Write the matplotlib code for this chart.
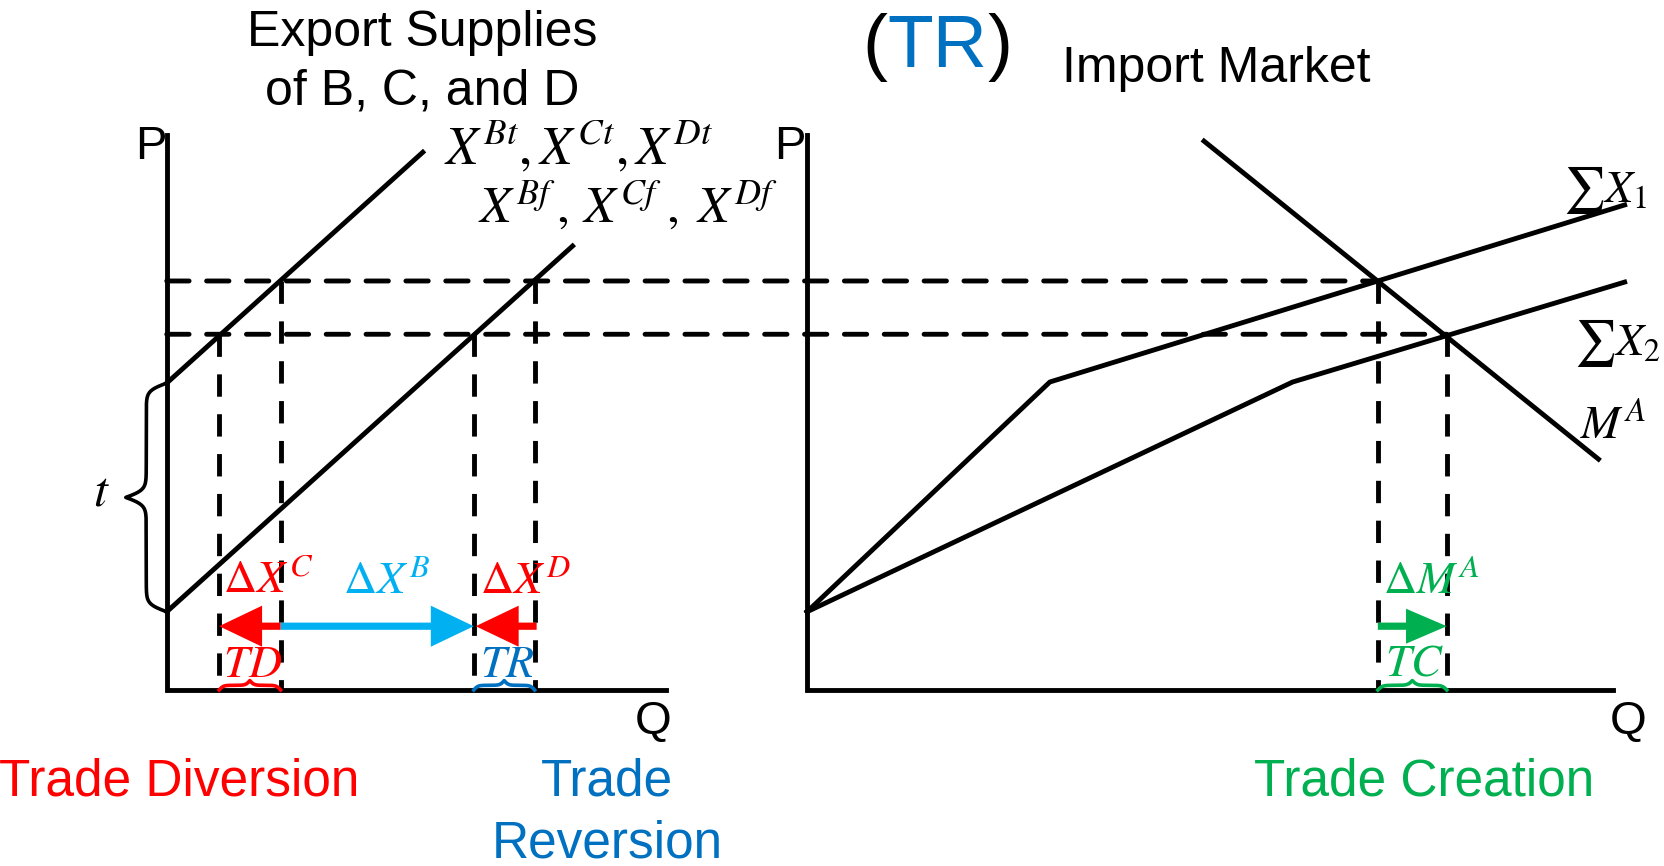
import numpy as np
import matplotlib.pyplot as plt
from matplotlib.patches import ConnectionPatch, FancyArrow

plt.rcParams['font.family'] = ['Liberation Sans', 'DejaVu Sans']
plt.rcParams['mathtext.fontset'] = 'stix'

# --- data (Q and P in diagram units) ---
# left panel: export supplies of B, C, D
supply_tariff_q = [0.0, 5.13]
supply_tariff_p = [5.53, 9.69]
supply_free_q = [0.0, 8.13]
supply_free_p = [1.41, 8.00]
p_high = 7.37
p_low = 6.41
q_c = [1.05, 2.28]      # low / high price on the tariff supply
q_d = [6.15, 7.37]      # low / high price on the free supply
arrow_p = 1.15

# right panel: import market
sum1_q = [0.0, 4.82, 16.23]
sum1_p = [1.41, 5.55, 8.74]
sum2_q = [0.0, 9.64, 16.23]
sum2_p = [1.41, 5.55, 7.35]
demand_q = [7.88, 15.71]
demand_p = [9.89, 4.16]
q_import = [11.33, 12.70]

RED = '#FF0000'
CYAN = '#00B0F0'
BLUE = '#0070C0'
GREEN = '#00B050'
LW = 3.5
DASH = (0, (4.6, 3.6))


def brace(ax, a, b, base, h, vertical=False, beta=40, **kw):
    # curly brace between a and b, tips on base, cusp at base + h
    u = np.linspace(0, 0.5, 200)
    half = 1 / (1 + np.exp(-beta * u)) + 1 / (1 + np.exp(-beta * (u - 0.5))) - 0.5
    along = a + (b - a) * np.concatenate([u, u + 0.5])
    off = base + h * np.concatenate([half, half[::-1]])
    if vertical:
        ax.plot(off, along, clip_on=False, **kw)
    else:
        ax.plot(along, off, clip_on=False, **kw)


fig = plt.figure(figsize=(16.64, 8.66), dpi=100)
ax1 = fig.add_axes([0.1002, 0.2032, 0.3000, 0.6409])
ax2 = fig.add_axes([0.4850, 0.2032, 0.4844, 0.6409])
ax1.set_xlim(0, 10)
ax1.set_ylim(0, 10)
ax2.set_xlim(0, 16)
ax2.set_ylim(0, 10)
for ax in (ax1, ax2):
    ax.set_axis_off()

# axes lines
ax1.plot([0, 0, 10], [10, 0, 0], color='k', lw=LW, clip_on=False, solid_joinstyle='miter')
ax2.plot([0, 0, 16], [10, 0, 0], color='k', lw=LW, clip_on=False, solid_joinstyle='miter')

# left panel curves
ax1.plot(supply_tariff_q, supply_tariff_p, color='k', lw=LW, clip_on=False)
ax1.plot(supply_free_q, supply_free_p, color='k', lw=LW, clip_on=False)
ax1.plot([q_c[0]] * 2, [p_low, 0], color='k', lw=LW, ls=DASH)
ax1.plot([q_c[1]] * 2, [p_high, 0], color='k', lw=LW, ls=DASH)
ax1.plot([q_d[0]] * 2, [p_low, 0], color='k', lw=LW, ls=DASH)
ax1.plot([q_d[1]] * 2, [p_high, 0], color='k', lw=LW, ls=DASH)

# right panel curves
ax2.plot(sum1_q, sum1_p, color='k', lw=LW, clip_on=False)
ax2.plot(sum2_q, sum2_p, color='k', lw=LW, clip_on=False)
ax2.plot(demand_q, demand_p, color='k', lw=LW, clip_on=False)
ax2.plot([q_import[0]] * 2, [p_high, 0], color='k', lw=LW, ls=DASH)
ax2.plot([q_import[1]] * 2, [p_low, 0], color='k', lw=LW, ls=DASH)

# price lines across both panels
for p, q in [(p_high, q_import[0]), (p_low, q_import[1])]:
    con = ConnectionPatch(xyA=(0, p), coordsA=ax1.transData, xyB=(q, p), coordsB=ax2.transData,
                          color='k', lw=LW, ls=DASH)
    fig.add_artist(con)

# arrows
ax1.add_patch(FancyArrow(q_c[1], arrow_p, q_d[0] - q_c[1], 0, width=0.13, head_width=0.74,
                         head_length=0.86, length_includes_head=True, color=CYAN, lw=0, zorder=3))
ax1.add_patch(FancyArrow(q_c[1], arrow_p, q_c[0] - q_c[1], 0, width=0.13, head_width=0.74,
                         head_length=0.86, length_includes_head=True, color=RED, lw=0, zorder=4))
ax1.add_patch(FancyArrow(q_d[1] + 0.04, arrow_p, q_d[0] - q_d[1], 0, width=0.13, head_width=0.74,
                         head_length=0.86, length_includes_head=True, color=RED, lw=0, zorder=4))
ax2.add_patch(FancyArrow(q_import[0], arrow_p, q_import[1] - q_import[0], 0, width=0.13, head_width=0.63,
                         head_length=0.81, length_includes_head=True, color=GREEN, lw=0, zorder=4))

# braces
brace(ax1, supply_free_p[0], supply_tariff_p[0], 0, -0.82, vertical=True, beta=60, color='k', lw=2.6)
brace(ax1, q_c[0], q_c[1], 0, 0.17, beta=30, color=RED, lw=2.6)
brace(ax1, q_d[0], q_d[1], 0, 0.17, beta=30, color=BLUE, lw=2.6)
brace(ax2, q_import[0], q_import[1], 0, 0.17, beta=30, color=GREEN, lw=2.6)

# labels inside panels
ax1.text(-0.31, 9.78, 'P', fontsize=34, ha='center', va='center')
ax2.text(-0.34, 9.78, 'P', fontsize=34, ha='center', va='center')
ax1.text(9.75, -0.58, 'Q', fontsize=34, ha='center', va='center')
ax2.text(16.29, -0.58, 'Q', fontsize=34, ha='center', va='center')
ax1.text(-1.31, 3.55, r'$t$', fontsize=36, ha='center', va='center')

ax1.text(5.55, 9.77, r'$X^{Bt},X^{Ct},X^{Dt}$', fontsize=38, ha='left', va='center')
ax1.text(6.23, 8.70, r'$X^{Bf}\,,\,X^{Cf}\;,\;X^{Df}$', fontsize=37, ha='left', va='center')

ax1.text(1.13, 1.75, r'$\Delta X^C$', fontsize=33, color=RED, ha='left', va='baseline')
ax1.text(3.53, 1.75, r'$\Delta X^B$', fontsize=33, color=CYAN, ha='left', va='baseline')
ax1.text(6.27, 1.75, r'$\Delta X^D$', fontsize=33, color=RED, ha='left', va='baseline')
ax1.text(1.13, 0.23, r'$TD$', fontsize=33, color=RED, ha='left', va='baseline')
ax1.text(6.27, 0.23, r'$TR$', fontsize=33, color=BLUE, ha='left', va='baseline')

ax2.text(11.43, 1.75, r'$\Delta M^A$', fontsize=33, color=GREEN, ha='left', va='baseline')
ax2.text(11.47, 0.27, r'$TC$', fontsize=33, color=GREEN, ha='left', va='baseline')
ax2.text(15.00, 9.01, r'$\sum X_1$', fontsize=33, ha='left', va='center')
ax2.text(15.22, 6.25, r'$\sum X_2$', fontsize=33, ha='left', va='center')
ax2.text(15.34, 4.74, r'$M^A$', fontsize=34, ha='left', va='center')

# titles
fig.text(0.2536, 0.9283, 'Export Supplies\nof B, C, and D', fontsize=36, ha='center', va='center',
         linespacing=1.36)
tr = fig.text(0.5634, 0.9446, 'TR', fontsize=54, color=BLUE, ha='center', va='center')
fig.text(0.731, 0.920, 'Import Market', fontsize=36, ha='center', va='center')
fig.canvas.draw()
ax1.annotate('(', xy=(0, 0), xycoords=tr, fontsize=54, ha='right', va='bottom')
ax1.annotate(')', xy=(1, 0), xycoords=tr, fontsize=54, ha='left', va='bottom')

# bottom captions
fig.text(0.1076, 0.097, 'Trade Diversion', fontsize=37, color=RED, ha='center', va='center')
fig.text(0.3648, 0.0613, 'Trade\nReversion', fontsize=37, color=BLUE, ha='center', va='center',
         linespacing=1.33)
fig.text(0.8558, 0.097, 'Trade Creation', fontsize=37, color=GREEN, ha='center', va='center')

fig.savefig('out.png', dpi=100)
